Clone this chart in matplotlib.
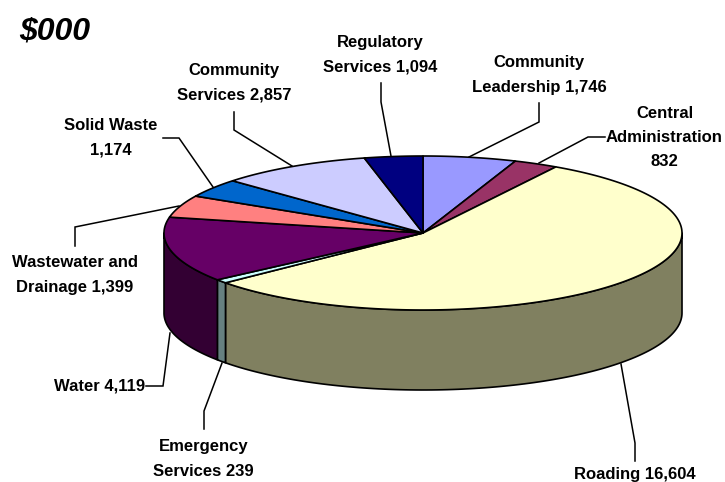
import numpy as np
import matplotlib
matplotlib.use("Agg")
import matplotlib.pyplot as plt
from matplotlib.patches import Polygon

# slices run clockwise from twelve o'clock
names = ["Community\nLeadership 1,746", "Central\nAdministration\n832", "Roading 16,604",
         "Emergency\nServices 239", "Water 4,119", "Wastewater and\nDrainage 1,399",
         "Solid Waste\n1,174", "Community\nServices 2,857", "Regulatory\nServices 1,094"]
values = [1746, 832, 16604, 239, 4119, 1399, 1174, 2857, 1094]
top_colors = ["#9999FF", "#993366", "#FFFFCC", "#CCFFFF", "#660066",
              "#FF8080", "#0066CC", "#CCCCFF", "#000080"]
side_colors = ["#666699", "#662244", "#808060", "#668080", "#330033",
               "#804040", "#003366", "#666680", "#000040"]

label_x = [539, 664.5, 635, 203.5, 145, 75, 111, 234, 380.5]
label_y = [75, 137.5, 474, 459, 386, 275, 137.5, 83, 55]
label_ha = ["center", "center", "center", "center", "right", "center", "center", "center", "center"]

leaders = [
    [(539, 103), (539, 122), (469, 157)],
    [(605, 137), (588, 137), (539, 163)],
    [(635, 461), (635, 443), (621, 364)],
    [(204, 429), (204, 411), (222, 363)],
    [(146, 386), (163, 386), (170, 333)],
    [(75, 246), (75, 227), (179, 206)],
    [(163, 138), (179, 138), (213, 187)],
    [(234, 112), (234, 130), (292, 166)],
    [(381, 83), (381, 102), (391, 156)],
]

cx, cy = 423, 233
rx, ry = 259, 77
depth = 80


def rim(a):
    a = np.radians(a)
    return cx + rx * np.sin(a), cy - ry * np.cos(a)


plt.rcParams["font.family"] = ["Liberation Sans", "DejaVu Sans"]
fig = plt.figure(figsize=(7.25, 4.82), dpi=100)
ax = fig.add_axes([0, 0, 1, 1])
ax.set_xlim(0, 725)
ax.set_ylim(482, 0)
ax.axis("off")

edges = np.cumsum([0] + values) / sum(values) * 360

# side wall, only the part facing the viewer
for i in range(len(values)):
    a0 = max(edges[i], 90)
    a1 = min(edges[i + 1], 270)
    if a1 <= a0:
        continue
    t = np.linspace(a0, a1, 120)
    x, y = rim(t)
    pts = np.r_[np.c_[x, y], np.c_[x[::-1], y[::-1] + depth]]
    ax.add_patch(Polygon(pts, closed=True, fc=side_colors[i], ec="black", lw=1.2, joinstyle="round"))

# top face
for i in range(len(values)):
    t = np.linspace(edges[i], edges[i + 1], 200)
    x, y = rim(t)
    pts = np.r_[[(cx, cy)], np.c_[x, y]]
    ax.add_patch(Polygon(pts, closed=True, fc=top_colors[i], ec="black", lw=1.2, joinstyle="round"))

for line in leaders:
    xs, ys = zip(*line)
    ax.plot(xs, ys, color="black", lw=1.1, solid_joinstyle="miter")

for name, x, y, ha in zip(names, label_x, label_y, label_ha):
    ax.text(x, y, name, ha=ha, va="center", ma="center", fontsize=12, fontweight="bold",
            linespacing=1.76, color="black", clip_on=False)

ax.text(19, 31, "$000", parse_math=False, ha="left", va="center", fontsize=23,
        fontweight="bold", fontstyle="italic", color="black")

fig.savefig("out.png", dpi=100)
